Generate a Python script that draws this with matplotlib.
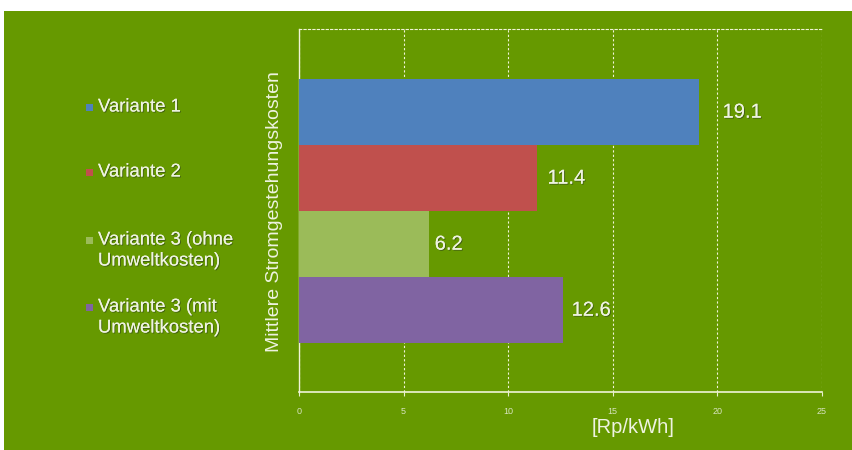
import matplotlib
matplotlib.use("Agg")
import matplotlib.pyplot as plt
from matplotlib.patches import Rectangle
import matplotlib.patheffects as pe

series = ["Variante 1", "Variante 2", "Variante 3 (ohne\nUmweltkosten)", "Variante 3 (mit\nUmweltkosten)"]
values = [19.1, 11.4, 6.2, 12.6]
value_labels = ["19.1", "11.4", "6.2", "12.6"]
colors = ["#4F81BD", "#C0504D", "#9BBB59", "#8064A2"]
xticks = [0, 5, 10, 15, 20, 25]

plt.rcParams['font.family'] = ['Liberation Sans', 'DejaVu Sans']

bg = "#669900"
txt = "#eef3e0"
fig = plt.figure(figsize=(8.53, 4.5), dpi=100)
fig.patch.set_facecolor("white")

bgax = fig.add_axes([0, 0, 1, 1], zorder=0)
bgax.set_xlim(0, 853)
bgax.set_ylim(450, 0)
bgax.axis("off")
bgax.add_patch(Rectangle((4, 11), 853, 450, facecolor=bg, edgecolor="none"))

ax = fig.add_axes([299/853, 1 - 392/450, 523/853, 363/450], zorder=2)
ax.set_facecolor("none")

n = len(values)
pos = [i for i in range(n)]
ax.barh(pos, values, height=1.0, color=colors, zorder=3)
ax.set_ylim(n - 0.5 + 0.74, -0.5 - 0.76)
ax.set_xlim(0, 25)

shadow = [pe.withSimplePatchShadow(offset=(0.7, -0.7), shadow_rgbFace="#2a3a20", alpha=0.6), pe.Normal()]
label_gap_px = [24, 10, 6, 9]
for p, v, lab, g in zip(pos, values, value_labels, label_gap_px):
    ax.annotate(lab, xy=(v, p), xytext=(g * 72 / 100, 0), textcoords="offset points",
                va="center", ha="left", fontsize=14.5, color=txt,
                path_effects=shadow, zorder=4)

ax.set_xticks(xticks)
ax.set_xticklabels([str(t) for t in xticks], fontsize=6.5)
ax.tick_params(axis="x", colors="#e8f0d0", length=3, width=0.8, pad=8, labelcolor="#d8e4c0")
ax.set_yticks([])
ax.grid(axis="x", color="#f0f4d8", linestyle=(0, (2, 2)), linewidth=0.8, zorder=1)
ax.spines["top"].set_color("#f0f4d8")
ax.spines["top"].set_linestyle((0, (2, 2)))
ax.spines["top"].set_linewidth(0.8)
ax.spines["right"].set_visible(False)
ax.spines["left"].set_color("#f0f4d8")
ax.spines["left"].set_linewidth(1.0)
ax.spines["bottom"].set_color("#f0f4d8")
ax.spines["bottom"].set_linewidth(1.2)

ax.set_xlabel("[Rp/kWh]", fontsize=14.5, color=txt)
ax.xaxis.set_label_coords(0.639, -0.097)
ax.xaxis.label.set_va("center")
ax.set_ylabel("Mittlere Stromgestehungskosten", fontsize=14, color=txt)
ax.yaxis.set_label_coords(-0.046, 0.497)
ax.yaxis.label.set_va("center")

# legend on left
legend_y = [107, 172, 240, 307]
line_h = 21
for lab, col, y in zip(series, colors, legend_y):
    bgax.add_patch(Rectangle((86, y - 3.5), 7, 7, facecolor=col, edgecolor="none"))
    for k, line in enumerate(lab.split("\n")):
        bgax.text(98, y + k * line_h, line, fontsize=13.3, color=txt, va="center", ha="left",
                  path_effects=shadow)

fig.savefig("out.png", dpi=100, facecolor=fig.get_facecolor())
